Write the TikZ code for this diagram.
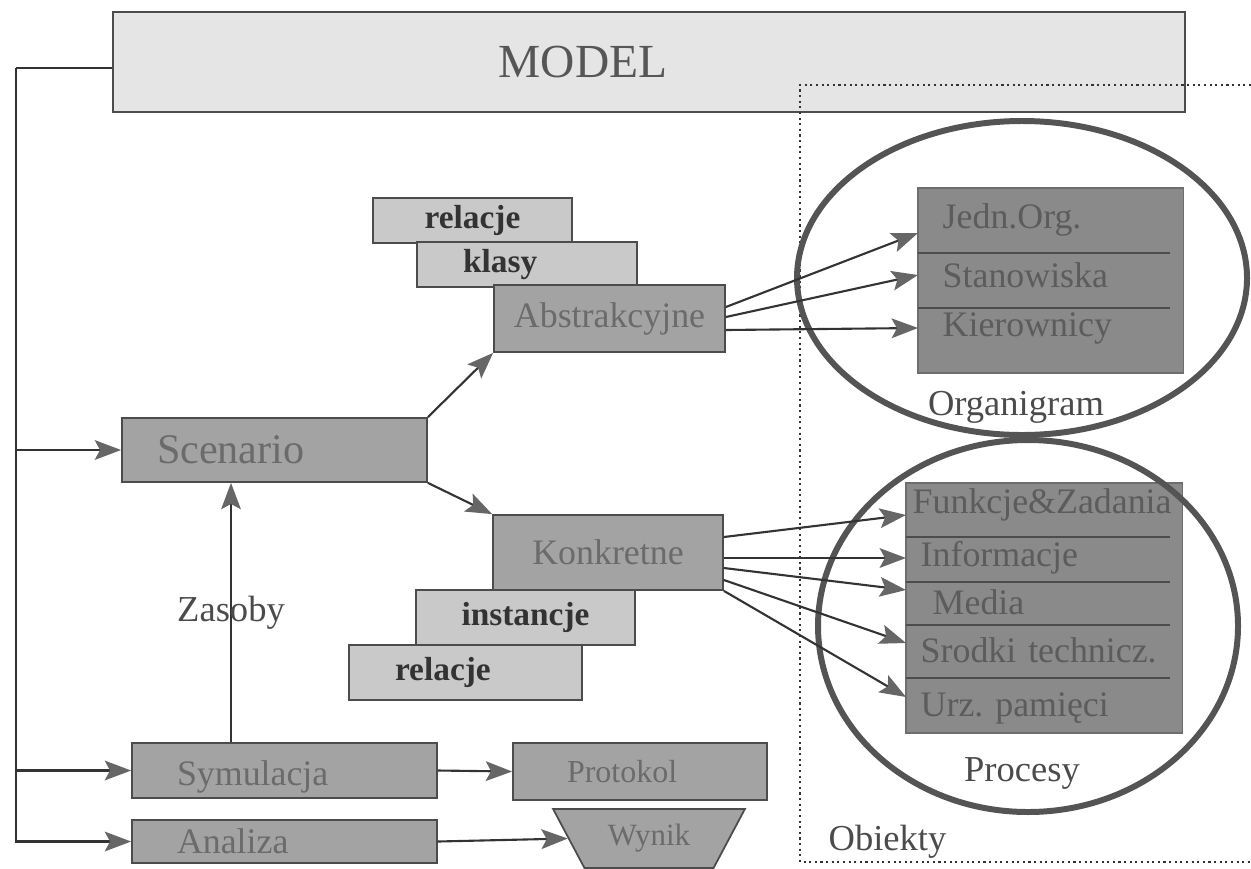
\documentclass[tikz,border=0pt]{standalone}
\usepackage{fontspec}
\setmainfont{Liberation Serif}
\usetikzlibrary{arrows.meta,shapes.geometric}

\definecolor{edgegray}{gray}{0.3}
\definecolor{modelfill}{gray}{0.9}
\definecolor{midfill}{gray}{0.64}
\definecolor{palefill}{gray}{0.79}
\definecolor{tabfill}{gray}{0.54}
\definecolor{boxtext}{gray}{0.42}
\definecolor{paletext}{gray}{0.2}
\definecolor{tabtext}{gray}{0.36}
\definecolor{ringgray}{gray}{0.33}
\definecolor{linkgray}{gray}{0.2}
\definecolor{tipgray}{gray}{0.4}

\begin{document}
\frenchspacing
\begin{tikzpicture}[
    box/.style={draw=edgegray, fill=midfill, text=boxtext, inner sep=0pt, line width=0.5pt,
        font=\fontsize{10.2}{12}\selectfont},
    pale/.style={draw=edgegray, fill=palefill, text=paletext, inner sep=0pt, line width=0.5pt,
        font=\bfseries\fontsize{9.5}{11}\selectfont},
    tabbox/.style={fill=tabfill, draw=tabfill!80!black, line width=0.3pt, inner sep=0pt},
    rowtext/.style={anchor=west, inner ysep=0pt, text=tabtext, align=left,
        font=\fontsize{10.2}{12}\selectfont},
    orgrow/.style={rowtext, inner xsep=0.24cm, text width=2.17cm},
    procrow/.style={rowtext, inner xsep=0.14cm, text width=2.48cm},
    divider/.style={draw=edgegray, line width=0.6pt},
    ring/.style={draw=ringgray, line width=1.7pt},
    link/.style={draw=linkgray, line width=0.6pt},
    arr/.style={link, -{Stealth[length=7.5pt, width=5.6pt, inset=1.5pt, color=tipgray, fill=tipgray]}},
    lbl/.style={text=boxtext!70!black, font=\fontsize{10.4}{12}\selectfont}
]

    \useasboundingbox (0, 0) rectangle (12.51, 8.68);

    \node[draw=edgegray, fill=modelfill, line width=0.8pt, minimum width=10.72cm, minimum height=1.00cm,
        label={[text=boxtext!80!black, font=\fontsize{13.5}{15}\selectfont, xshift=-0.66cm]center:MODEL}]
        (model) at (6.49, 8.06) {};

    \draw[densely dotted, draw=linkgray, line width=0.6pt]
        (12.51, 7.83) -- (8.00, 7.83) -- (8.00, 0.06) -- (12.51, 0.06);

    \node[box, minimum width=3.05cm, minimum height=0.64cm, text width=2.35cm, align=left,
        font=\fontsize{12}{14}\selectfont] (scen) at (2.745, 4.18) {Scenario};
    \node[box, minimum width=3.05cm, minimum height=0.55cm, text width=2.15cm, align=left,
        text height=0.37cm, text depth=0.07cm] (sym) at (2.845, 0.975) {Symulacja};
    \node[box, minimum width=3.05cm, minimum height=0.43cm, text width=2.15cm, align=left] (ana) at (2.845, 0.265) {Analiza};
    \node[box, minimum width=2.54cm, minimum height=0.57cm, text width=1.46cm, align=left,
        font=\fontsize{9.1}{11}\selectfont] (prot) at (6.40, 0.965) {Protokol};
    \node[box, trapezium, shape border rotate=180, trapezium stretches=true, trapezium angle=54.6,
        minimum width=1.92cm, minimum height=0.59cm, font=\fontsize{8.8}{10}\selectfont] (wyn) at (6.49, 0.295) {Wynik};

    \node[pale, minimum width=1.99cm, minimum height=0.45cm] (relA) at (4.725, 6.475) {relacje};
    \node[pale, minimum width=2.20cm, minimum height=0.45cm, text width=1.28cm, align=left] (klas) at (5.27, 6.035) {klasy};
    \node[box, minimum width=2.31cm, minimum height=0.67cm] (abs) at (6.095, 5.495) {Abstrakcyjne};

    \node[pale, minimum width=2.33cm, minimum height=0.55cm, text width=1.41cm, align=left] (relK) at (4.655, 1.955) {relacje};
    \node[pale, minimum width=2.19cm, minimum height=0.55cm] (inst) at (5.255, 2.505) {instancje};
    \node[box, minimum width=2.30cm, minimum height=0.75cm] (konk) at (6.08, 3.155) {Konkretne};

    \node[tabbox, minimum width=2.65cm, minimum height=1.85cm] (orgbox) at (10.505, 5.875) {};
    \draw[divider] (9.18, 6.15) -- (11.70, 6.15);
    \draw[divider] (9.18, 5.60) -- (11.70, 5.60);
    \node[orgrow] (jedn) at (9.18, 6.48) {Jedn.Org.};
    \node[orgrow] (stan) at (9.18, 5.93) {Stanowiska};
    \node[orgrow] (kier) at (9.18, 5.40) {Kierownicy};

    \node[tabbox, minimum width=2.76cm, minimum height=2.50cm] (procbox) at (10.44, 2.60) {};
    \draw[divider] (9.06, 3.31) -- (11.70, 3.31);
    \draw[divider] (9.06, 2.86) -- (11.70, 2.86);
    \draw[divider] (9.06, 2.43) -- (11.70, 2.43);
    \draw[divider] (9.06, 1.90) -- (11.70, 1.90);
    \node[procrow] (funk) at (9.06, 3.63) {\hspace*{-0.08cm}Funkcje\&Zadania};
    \node[procrow] (info) at (9.06, 3.10) {Informacje};
    \node[procrow] (media) at (9.06, 2.66) {\hspace*{0.12cm}Media};
    \node[procrow] (srod) at (9.06, 2.18) {Srodki technicz.};
    \node[procrow] (urz) at (9.06, 1.60) {Urz. pamięci};

    \draw[ring] (10.22, 5.90) ellipse [x radius=2.25, y radius=1.57];
    \draw[ring] (10.28, 2.42) ellipse [x radius=2.10, y radius=1.86];

    \node[lbl] (orgl) at (10.16, 4.61) {Organigram};
    \node[lbl] (procl) at (10.22, 0.95) {Procesy};
    \node[lbl] (obj) at (8.875, 0.26) {Obiekty};

    \coordinate (trunk) at (0.16, 8.00);
    \draw[link] ([yshift=-0.06cm]model.west) -- (trunk);
    \draw[arr] (trunk) |- (ana.west);
    \draw[arr] (trunk |- scen.west) -- (scen.west);
    \draw[arr] (trunk |- sym.west) -- (sym.west);

    \draw[arr] ([xshift=-0.535cm]sym.north) -- ([xshift=-0.535cm]sym.north |- scen.south)
        node[midway, lbl] (zas) {Zasoby};
    \draw[arr] (sym.east) -- (prot.west);
    \draw[arr] (ana.east) -- (wyn.west);

    \draw[arr] (scen.north east) -- (abs.south west);
    \draw[arr] (scen.south east) -- (konk.north west);

    \draw[arr] ([yshift=0.115cm]abs.east) -- ([yshift=-0.13cm]jedn.west);
    \draw[arr] ([yshift=0.015cm]abs.east) -- (stan.west);
    \draw[arr] ([yshift=-0.115cm]abs.east) -- (kier.west);

    \draw[arr] ([yshift=0.155cm]konk.east) -- ([yshift=-0.10cm]funk.west);
    \draw[arr] ([yshift=-0.055cm]konk.east) -- (info.west);
    \draw[arr] ([yshift=-0.155cm]konk.east) -- ([yshift=0.12cm]media.west);
    \draw[arr] ([yshift=-0.275cm]konk.east) -- ([yshift=0.07cm]srod.west);
    \draw[arr] (konk.south east) -- ([yshift=0.11cm]urz.west);

\end{tikzpicture}
\end{document}
